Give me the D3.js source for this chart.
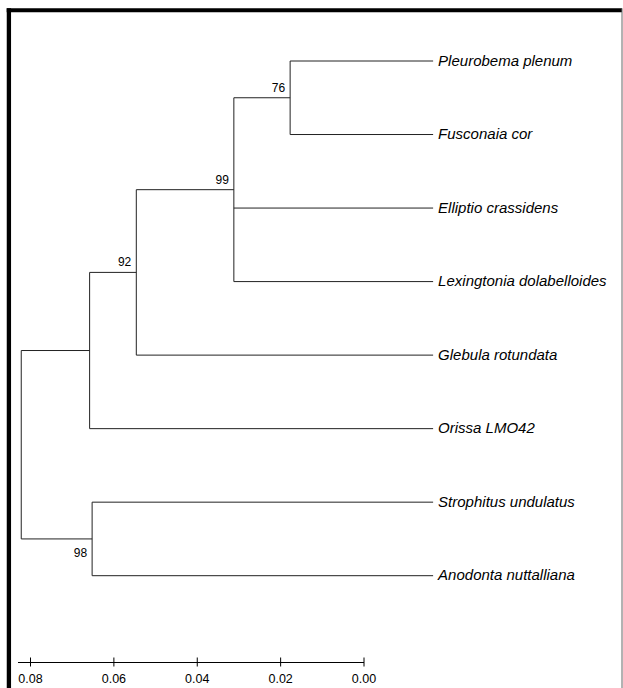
<!DOCTYPE html>
<html>
<head>
<meta charset="utf-8">
<script src="https://cdn.jsdelivr.net/npm/d3@7"></script>
<style>
  html, body { margin: 0; padding: 0; background: #fff; }
  svg { display: block; }
</style>
</head>
<body>
<svg id="chart"></svg>
<script>
// leaves, top to bottom
const taxa = ["Pleurobema plenum", "Fusconaia cor", "Elliptio crassidens", "Lexingtonia dolabelloides",
              "Glebula rotundata", "Orissa LMO42", "Strophitus undulatus", "Anodonta nuttalliana"];
const taxonParents = ["n76", "n76", "n99", "n99", "n92", "n1", "n98", "n98"];

// internal nodes, position read on the distance axis
const nodeIds = ["root", "n1", "n92", "n99", "n76", "n98"];
const nodeParents = [null, "root", "n1", "n92", "n99", "root"];
const nodeDepths = [0.0821, 0.0657, 0.0545, 0.0311, 0.0176, 0.0651];
const nodeSupport = [null, null, 92, 99, 76, 98];
const tipDepth = -0.0167;

const axisTicks = [0.08, 0.06, 0.04, 0.02, 0.00];
const axisStart = 0.083;

function drawTree() {
    const width = 623, height = 688;
    const svg = d3.select("#chart").attr("width", width).attr("height", height);

    const x = d3.scaleLinear().domain([0.08, 0]).range([30, 363.5]);
    const y = d3.scalePoint().domain(taxa).range([61, 575.7]);

    const rows = nodeIds.map((id, i) => ({id: id, parent: nodeParents[i], depth: nodeDepths[i], support: nodeSupport[i]}))
        .concat(taxa.map((t, i) => ({id: t, parent: taxonParents[i], depth: tipDepth, support: null})));

    const root = d3.stratify().id(d => d.id).parentId(d => d.parent)(rows);

    // leaves sit on their rows, inner nodes halfway between their outer children
    root.eachAfter(n => {
        n.px = x(n.data.depth);
        if (!n.children) {
            n.py = y(n.data.id);
        } else {
            const ys = n.children.map(c => c.py);
            n.py = (d3.min(ys) + d3.max(ys)) / 2;
        }
    });

    const g = svg.append("g");

    // vertical connectors
    g.selectAll(".vline")
        .data(root.descendants().filter(n => n.children))
        .join("line")
        .attr("x1", n => n.px).attr("x2", n => n.px)
        .attr("y1", n => d3.min(n.children, c => c.py))
        .attr("y2", n => d3.max(n.children, c => c.py))
        .attr("stroke", "#222").attr("stroke-width", 1);

    // horizontal branches
    g.selectAll(".hline")
        .data(root.descendants().filter(n => n.parent))
        .join("line")
        .attr("x1", n => n.parent.px).attr("x2", n => n.px)
        .attr("y1", n => n.py).attr("y2", n => n.py)
        .attr("stroke", "#222").attr("stroke-width", 1);

    // taxon names
    g.selectAll(".taxon")
        .data(root.leaves())
        .join("text")
        .attr("x", n => n.px + 5)
        .attr("y", n => n.py + 4.5)
        .attr("font-family", "'Liberation Sans', Arial, sans-serif")
        .attr("font-size", 15)
        .attr("font-style", "italic")
        .attr("fill", "#000")
        .text(n => n.data.id);

    // bootstrap values: above the branch, except the last clade which is below
    g.selectAll(".support")
        .data(root.descendants().filter(n => n.data.support != null))
        .join("text")
        .attr("x", n => n.px - 5)
        .attr("y", n => n.data.id === "n98" ? n.py + 18 : n.py - 6)
        .attr("text-anchor", "end")
        .attr("font-family", "'Liberation Sans', Arial, sans-serif")
        .attr("font-size", 12)
        .attr("fill", "#000")
        .text(n => n.data.support);

    // distance axis
    const axisScale = x.copy().domain([axisStart, 0]).range([x(axisStart), x(0)]);
    const axis = svg.append("g")
        .attr("transform", "translate(0, 662)")
        .call(d3.axisBottom(axisScale).tickValues(axisTicks).tickFormat(d3.format(".2f"))
            .tickSizeInner(4.5).tickSizeOuter(0).tickPadding(7.5));
    axis.selectAll("path, line").attr("stroke", "#000");
    axis.selectAll(".tick line").attr("y1", -4.5);
    axis.selectAll("text")
        .attr("font-family", "'Liberation Sans', Arial, sans-serif")
        .attr("font-size", 12.5)
        .attr("fill", "#000");

    // frame
    svg.append("line").attr("x1", 6.7).attr("x2", 622).attr("y1", 10.3).attr("y2", 10.3)
        .attr("stroke", "#000").attr("stroke-width", 4);
    svg.append("line").attr("x1", 8.9).attr("x2", 8.9).attr("y1", 8.3).attr("y2", height)
        .attr("stroke", "#000").attr("stroke-width", 4.3);
    svg.append("line").attr("x1", 622).attr("x2", 622).attr("y1", 8.3).attr("y2", height)
        .attr("stroke", "#666").attr("stroke-width", 1);
}

drawTree();
</script>
</body>
</html>
